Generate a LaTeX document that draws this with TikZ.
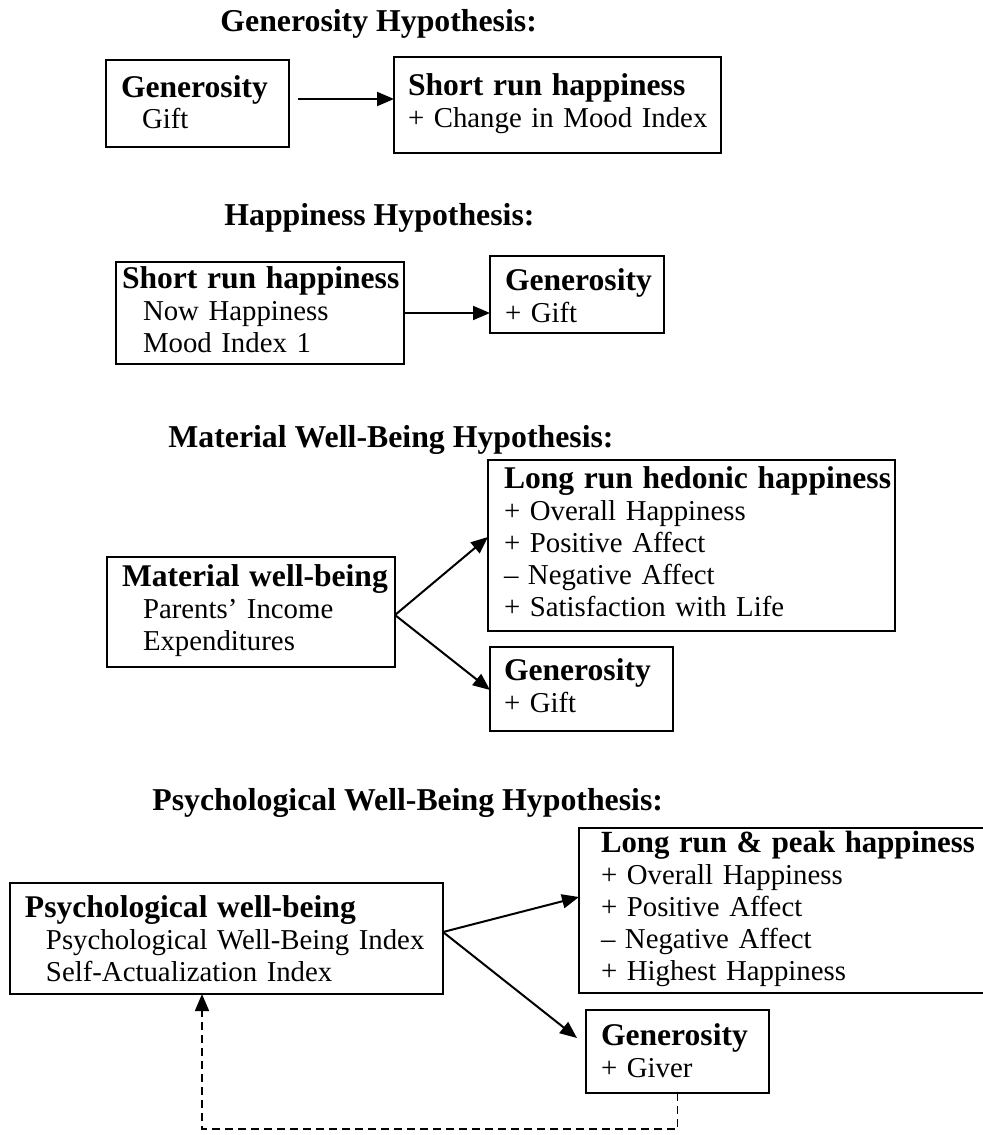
\documentclass[tikz,border=0pt]{standalone}
\usepackage{fontspec}
\setmainfont{Liberation Serif}
\usetikzlibrary{arrows.meta,calc}
\newcommand\hd[2][15.8]{\mbox{\fontsize{#1}{16}\selectfont\bfseries #2}}
\newcommand\bl[1]{\mbox{#1}}
\newcommand\ind{\hspace*{10.5pt}}
\begin{document}
\begin{tikzpicture}[x=0.5pt,y=-0.5pt,
  bx/.style n args={4}{draw, line width=1pt, anchor=north west, outer sep=0pt,
    inner ysep=0pt, inner xsep={0.5pt*#2}, text width={0.5pt*(#1-2*#2)},
    text height={0.5pt*#3}, text depth={0.5pt*#4}, align=left,
    font=\fontsize{14.4}{16}\selectfont},
  ttl/.style={anchor=base west, inner sep=0pt, font=\fontsize{15.9}{16}\selectfont\bfseries},
  arr/.style={-{Triangle[length=8.5pt,width=7pt]}, line width=1pt},
  dsh/.style={dash pattern=on 4pt off 2.5pt, line width=0.8pt}]
\useasboundingbox (0,0) rectangle (983,1135);

% titles
\node[ttl] (t1) at (220,32) {Generosity Hypothesis:};
\node[ttl] (t2) at (224,225) {Happiness Hypothesis:};
\node[ttl] (t3) at (168,447) {Material Well-Being Hypothesis:};
\node[ttl] (t4) at (152,810) {Psychological Well-Being Hypothesis:};

% boxes
\node[bx={183}{15}{37}{50}] (b1) at (106,60) {\hd{Generosity}\\\ind\bl{Gift}};
\node[bx={327}{14}{38}{58}] (b2) at (394,57) {\hd{Short run happiness}\\\bl{+ Change in Mood Index}};
\node[bx={288}{6}{26}{76}] (b3) at (116,262) {\hd{Short run happiness}\\\ind\bl{Now Happiness}\\\ind\bl{Mood Index 1}};
\node[bx={174}{15}{34}{43}] (b4) at (490,256) {\hd{Generosity}\\\bl{+ Gift}};
\node[bx={407}{16}{28}{143}] (b5) at (488,460) {\hd{Long run hedonic happiness}\\\bl{+ Overall Happiness}\\\bl{+ Positive Affect}\\\bl{– Negative Affect}\\\bl{+ Satisfaction with Life}};
\node[bx={183}{14}{33}{51}] (b6) at (490,647) {\hd{Generosity}\\\bl{+ Gift}};
\node[bx={288}{15}{29}{81}] (b7) at (107,557) {\hd{Material well-being}\\\ind\bl{Parents’ Income}\\\ind\bl{Expenditures}};
\node[bx={433}{15}{34}{77}] (b8) at (10,883) {\hd{Psychological well-being}\\\ind\bl{Psychological Well-Being Index}\\\ind\bl{Self-Actualization Index}};
\node[bx={421}{22}{24}{141}] (b9) at (579,828) {\hd[15.4]{Long run \& peak happiness}\\\bl{+ Overall Happiness}\\\bl{+ Positive Affect}\\\bl{– Negative Affect}\\\bl{+ Highest Happiness}};
\node[bx={183}{15}{35}{48}] (b10) at (586,1010) {\hd{Generosity}\\\bl{+ Giver}};

% connectors
\coordinate (a1) at (298,99);
\draw[arr] (a1) -- (a1 -| b2.west);
\draw[arr] (b3.east |- 0,313) -- (b4.west |- 0,313);
\coordinate (m7) at (b7.east |- 0,615);
\draw[arr] (m7) -- (b5.west |- 0,537);
\draw[arr] (m7) -- (b6.west |- 0,690);
\coordinate (m8) at (b8.east |- 0,932);
\draw[arr] (m8) -- (b9.west |- 0,897);
\coordinate (g10) at (577,1038);
\draw[arr] (m8) -- (g10);
\coordinate (lp) at (202,1129);
\draw[dsh,-{Triangle[length=8.5pt,width=7pt]}] (b10.south) |- (lp) -- (lp |- b8.south);
\end{tikzpicture}
\end{document}
